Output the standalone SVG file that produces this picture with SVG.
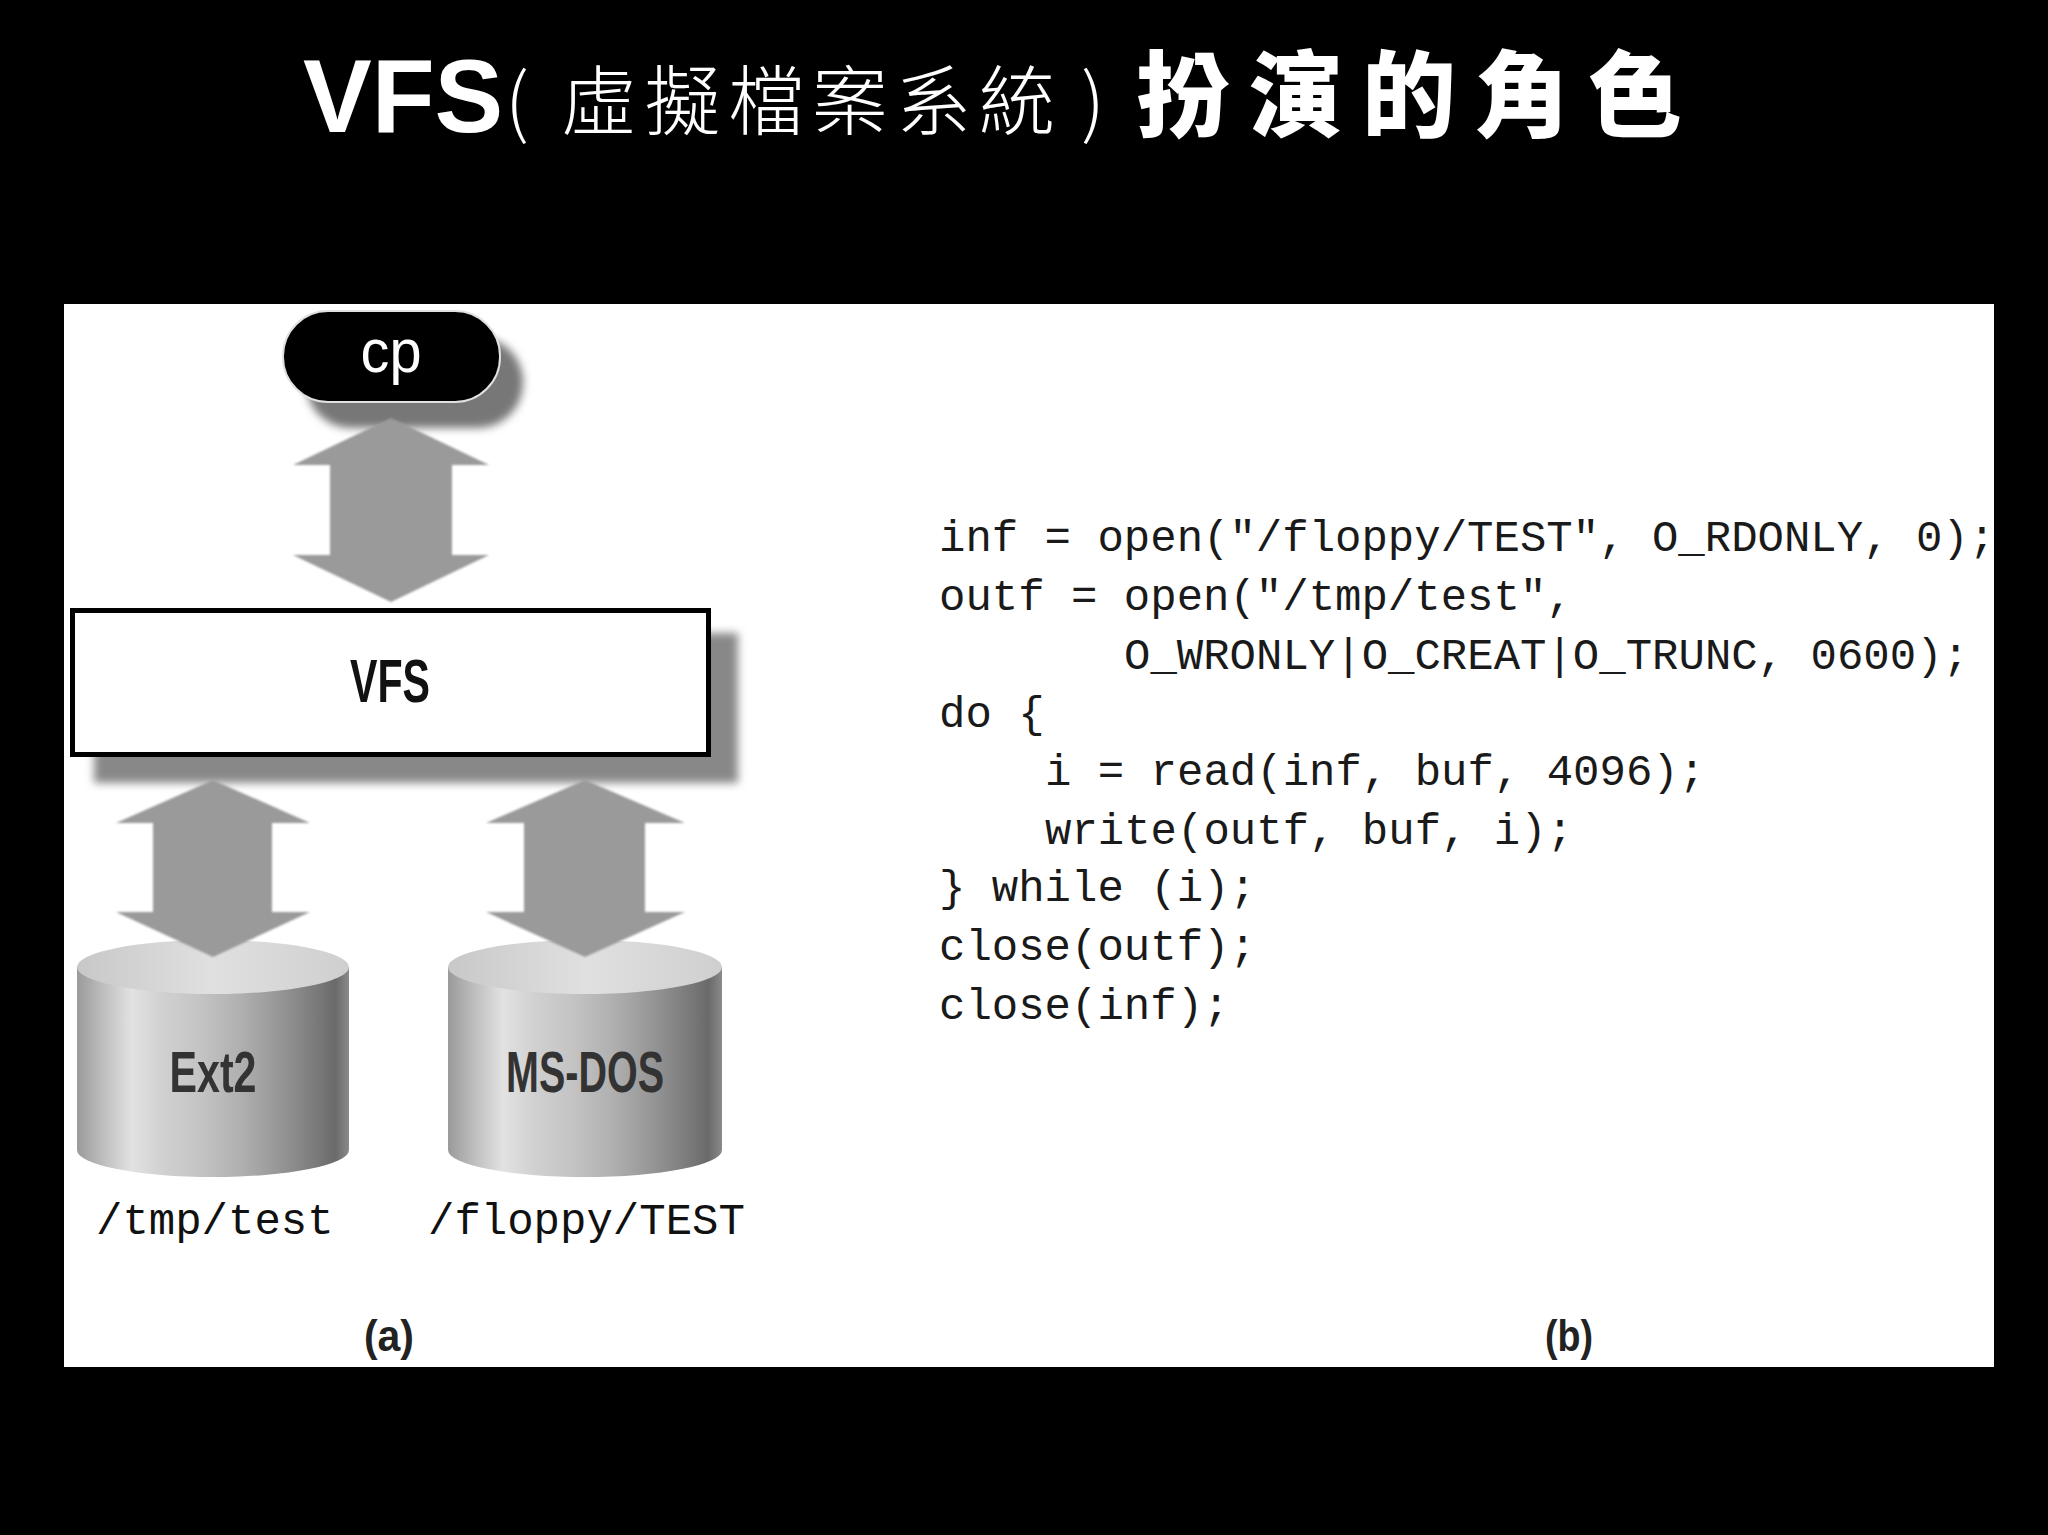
<svg xmlns="http://www.w3.org/2000/svg" width="2048" height="1535" viewBox="0 0 2048 1535">
<defs>
<style>
.title-latin{font-family:"Liberation Sans",Arial,sans-serif;font-weight:700;fill:#fff}
.title-thin{font-family:"Noto Sans CJK TC","Noto Sans CJK SC",sans-serif;font-weight:300;fill:#fff}
.title-bold{font-family:"Noto Sans CJK TC","Noto Sans CJK SC",sans-serif;font-weight:900;fill:#fff}
.cond{font-family:"Liberation Sans",Arial,sans-serif}
.mono{font-family:"Liberation Mono","DejaVu Sans Mono",monospace;font-size:44px;fill:#1a1a1a}
.path{font-family:"Liberation Mono","DejaVu Sans Mono",monospace;font-size:44px;fill:#111}
.arrow{fill:#9a9a9a}
</style>
<filter id="blur" x="-20%" y="-20%" width="140%" height="140%"><feGaussianBlur stdDeviation="4"/></filter>
<filter id="soft" x="-10%" y="-10%" width="120%" height="120%"><feGaussianBlur stdDeviation="1"/></filter>
<linearGradient id="cylSide" x1="0" y1="0" x2="1" y2="0">
<stop offset="0" stop-color="#9a9a9a"/>
<stop offset="0.08" stop-color="#b8b8b8"/>
<stop offset="0.2" stop-color="#e2e2e2"/>
<stop offset="0.32" stop-color="#d0d0d0"/>
<stop offset="0.45" stop-color="#c4c4c4"/>
<stop offset="0.6" stop-color="#b0b0b0"/>
<stop offset="0.75" stop-color="#959595"/>
<stop offset="0.88" stop-color="#7a7a7a"/>
<stop offset="0.95" stop-color="#6a6a6a"/>
<stop offset="1" stop-color="#8a8a8a"/>
</linearGradient>
<linearGradient id="cylTop" x1="0" y1="0" x2="1" y2="0">
<stop offset="0" stop-color="#c8c8c8"/>
<stop offset="0.5" stop-color="#e0e0e0"/>
<stop offset="1" stop-color="#cfcfcf"/>
</linearGradient>
</defs>

<rect x="0" y="0" width="2048" height="1535" fill="#000"/>

<g id="title">
<text class="title-latin" x="303" y="132" font-size="103">VFS</text>
<text class="title-thin" x="505" y="129" font-size="76">(</text>
<text class="title-thin" x="561" y="129" font-size="76" letter-spacing="7.6">虛擬檔案系統</text>
<text class="title-thin" x="1081" y="129" font-size="76">)</text>
<text class="title-bold" x="1136" y="130" font-size="94" letter-spacing="19">扮演的角色</text>
</g>

<rect id="panel" x="64" y="304" width="1930" height="1063" fill="#fff"/>

<g id="cylinder-ext2">
<path d="M77,967 L77,1150 A136,27 0 0 0 349,1150 L349,967 Z" fill="url(#cylSide)"/>
<ellipse cx="213" cy="967" rx="136" ry="27" fill="url(#cylTop)"/>
<text class="cond" x="213" y="1092" font-size="58" font-weight="700" fill="#333" text-anchor="middle" textLength="87" lengthAdjust="spacingAndGlyphs">Ext2</text>
</g>

<g id="cylinder-msdos">
<path d="M448,967 L448,1150 A137,27 0 0 0 722,1150 L722,967 Z" fill="url(#cylSide)"/>
<ellipse cx="585" cy="967" rx="137" ry="27" fill="url(#cylTop)"/>
<text class="cond" x="585" y="1092" font-size="58" font-weight="700" fill="#333" text-anchor="middle" textLength="158" lengthAdjust="spacingAndGlyphs">MS-DOS</text>
</g>

<g id="cp">
<rect x="306" y="337" width="217" height="91" rx="45" fill="#777" filter="url(#blur)"/>
<rect x="283" y="311" width="217" height="91" rx="45" fill="#000" stroke="#e0e0e0" stroke-width="2"/>
<text class="cond" x="391" y="372" font-size="62" fill="#fff" text-anchor="middle" textLength="61" lengthAdjust="spacingAndGlyphs">cp</text>
</g>

<g id="vfs">
<rect x="94" y="633" width="644" height="150" fill="#888" filter="url(#blur)"/>
<rect x="72.5" y="610.5" width="636" height="144" fill="#fff" stroke="#000" stroke-width="5"/>
<text class="cond" x="390" y="702" font-size="62" font-weight="700" fill="#111" text-anchor="middle" textLength="80" lengthAdjust="spacingAndGlyphs">VFS</text>
</g>

<g id="connectors" filter="url(#soft)">
<polygon class="arrow" points="391,418 489,465 452,465 452,555 489,555 391,602 293,555 330,555 330,465 293,465"/>
<polygon class="arrow" points="213,780 310,823 272,823 272,912 310,912 213,957 116,912 153,912 153,823 116,823"/>
<polygon class="arrow" points="585,780 685,823 645,823 645,912 685,912 585,957 486,912 524,912 524,823 486,823"/>
</g>

<g id="paths">
<text class="path" x="96" y="1234">/tmp/test</text>
<text class="path" x="428" y="1234">/floppy/TEST</text>
</g>

<g id="code">
<text class="mono" x="939" y="551">inf = open("/floppy/TEST", O_RDONLY, 0);</text>
<text class="mono" x="939" y="610">outf = open("/tmp/test",</text>
<text class="mono" x="1124" y="669">O_WRONLY|O_CREAT|O_TRUNC, 0600);</text>
<text class="mono" x="939" y="727">do {</text>
<text class="mono" x="1045" y="785">i = read(inf, buf, 4096);</text>
<text class="mono" x="1045" y="844">write(outf, buf, i);</text>
<text class="mono" x="939" y="901">} while (i);</text>
<text class="mono" x="939" y="960">close(outf);</text>
<text class="mono" x="939" y="1019">close(inf);</text>
</g>

<g id="captions">
<text class="cond" x="389" y="1351" font-size="44" font-weight="700" fill="#222" text-anchor="middle" textLength="50" lengthAdjust="spacingAndGlyphs">(a)</text>
<text class="cond" x="1569" y="1351" font-size="44" font-weight="700" fill="#222" text-anchor="middle" textLength="48" lengthAdjust="spacingAndGlyphs">(b)</text>
</g>
</svg>
